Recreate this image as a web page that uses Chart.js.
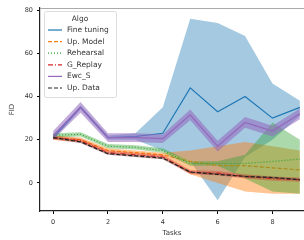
<!DOCTYPE html>
<html>
<head>
<meta charset="utf-8">
<script src="https://cdn.jsdelivr.net/npm/chart.js@4"></script>
<style>
  html, body { margin: 0; padding: 0; background: #fff; }
  #wrap { width: 304px; height: 240px; }
</style>
</head>
<body>
<div id="wrap"><canvas id="grafico"></canvas></div>
<script>
const tasks = [0, 1, 2, 3, 4, 5, 6, 7, 8, 9];
const xTicks = [0, 2, 4, 6, 8];
const yTicks = [0, 20, 40, 60, 80];

const algos = ['Fine tuning', 'Up. Model', 'Rehearsal', 'G_Replay', 'Ewc_S', 'Up. Data'];

const fineMean = [21, 35, 21, 21.5, 23, 44, 33, 40, 30, 35];
const fineLow  = [20, 34, 20, 20, 15, 10, -8, 12, 20, 31];
const fineHigh = [22, 36, 22, 23, 35, 76, 74, 68, 46, 38];

const modelMean = [21, 20, 15, 14, 13, 10, 8, 8, 7, 6];
const modelLow  = [20, 19, 14, 13, 12, 4, 0, -4, -5, -5];
const modelHigh = [22, 21, 16, 15, 14, 15, 17, 19, 17, 15];

const rehMean = [22, 22.5, 17, 16.5, 15, 9, 9, 9, 10, 11];
const rehLow  = [21, 21.5, 16, 15.5, 14, 8, 8, 2, -4, -5];
const rehHigh = [23, 23.5, 18, 17.5, 16, 10, 10, 13, 28, 20];

const grMean = [21, 19.5, 14, 13, 12, 5, 4.5, 3, 2, 1.5];
const grLow  = [20, 18.5, 13, 12, 11, 4, 3.5, 2, 1, 0.5];
const grHigh = [22, 20.5, 15, 14, 13, 6, 5.5, 4, 3, 2.5];

const ewcMean = [22, 35, 21, 21, 20.5, 31.5, 17, 28, 24, 32];
const ewcLow  = [20, 32.5, 19, 19, 18.5, 29, 14.5, 25.5, 21.5, 29.5];
const ewcHigh = [24, 37.5, 23, 23, 22.5, 34, 19.5, 30.5, 26.5, 34.5];

const dataMean = [21, 19, 13.5, 12.5, 11.5, 5, 4, 3, 2.5, 1.5];
const dataLow  = [20.5, 18.5, 13, 12, 11, 4.5, 3.5, 2.5, 2, 1];
const dataHigh = [21.5, 19.5, 14, 13, 12, 5.5, 4.5, 3.5, 3, 2];

const series = [
  { mean: fineMean, low: fineLow, high: fineHigh, color: '#1f77b4', band: 'rgba(31,119,180,0.4)', dash: [] },
  { mean: modelMean, low: modelLow, high: modelHigh, color: '#ff7f0e', band: 'rgba(255,127,14,0.45)', dash: [4, 2] },
  { mean: rehMean, low: rehLow, high: rehHigh, color: '#2ca02c', band: 'rgba(44,160,44,0.4)', dash: [1, 2] },
  { mean: grMean, low: grLow, high: grHigh, color: '#d62728', band: 'rgba(214,39,40,0.35)', dash: [5, 2, 1, 2] },
  { mean: ewcMean, low: ewcLow, high: ewcHigh, color: '#9467bd', band: 'rgba(148,103,189,0.55)', dash: [] },
  { mean: dataMean, low: dataLow, high: dataHigh, color: '#222222', band: 'rgba(60,60,60,0.25)', dash: [4, 2] },
];

const pts = (ys) => tasks.map((x, i) => ({ x, y: ys[i] }));

const datasets = [];
series.forEach((s, i) => {
  const ord = (series.length - i) * 10;
  datasets.push({
    label: algos[i] + ' high', data: pts(s.high), borderWidth: 0, pointRadius: 0,
    backgroundColor: s.band, fill: '+1', order: ord + 2, tension: 0,
  });
  datasets.push({
    label: algos[i] + ' low', data: pts(s.low), borderWidth: 0, pointRadius: 0,
    backgroundColor: s.band, fill: false, order: ord + 1, tension: 0,
  });
  datasets.push({
    label: algos[i], data: pts(s.mean), borderColor: s.color, borderWidth: 1.2,
    borderDash: s.dash, pointRadius: 0, fill: false, order: ord, tension: 0,
  });
});

const legendaAlgo = {
  id: 'legendaAlgo',
  afterDraw(chart) {
    const { ctx, chartArea } = chart;
    ctx.save();
    // linha cinza no topo
    ctx.strokeStyle = '#aaaaaa';
    ctx.lineWidth = 1;
    ctx.beginPath();
    ctx.moveTo(chartArea.left, chartArea.top + 0.5);
    ctx.lineTo(chartArea.right, chartArea.top + 0.5);
    ctx.stroke();

    const x0 = chartArea.left + 4, y0 = chartArea.top + 3;
    const w = 72, h = 86;
    ctx.fillStyle = 'rgba(255,255,255,0.85)';
    ctx.strokeStyle = '#dddddd';
    ctx.beginPath();
    ctx.roundRect(x0 + 0.5, y0 + 0.5, w, h, 2);
    ctx.fill();
    ctx.stroke();

    ctx.font = '7.5px "DejaVu Sans"';
    ctx.fillStyle = '#333';
    ctx.textBaseline = 'middle';
    ctx.textAlign = 'center';
    ctx.fillText('Algo', x0 + w / 2, y0 + 8);
    ctx.textAlign = 'left';
    series.forEach((s, i) => {
      const yy = y0 + 19 + i * 11.6;
      ctx.strokeStyle = s.color;
      ctx.lineWidth = 1.2;
      ctx.setLineDash(s.dash);
      ctx.beginPath();
      ctx.moveTo(x0 + 4, yy);
      ctx.lineTo(x0 + 18, yy);
      ctx.stroke();
      ctx.setLineDash([]);
      ctx.fillStyle = '#333';
      ctx.fillText(algos[i], x0 + 23, yy);
    });
    ctx.restore();
  },
};

const tickFont = { family: 'DejaVu Sans', size: 6.5 };

new Chart(document.getElementById('grafico').getContext('2d'), {
  type: 'line',
  data: { datasets },
  options: {
    responsive: true,
    maintainAspectRatio: false,
    animation: false,
    layout: { padding: { top: 8, right: 0, left: 8, bottom: 0 } },
    plugins: { legend: { display: false }, tooltip: { enabled: false } },
    scales: {
      x: {
        type: 'linear', min: -0.48, max: 9.15,
        afterBuildTicks: (sc) => { sc.ticks = xTicks.map((v) => ({ value: v })); },
        afterFit: (sc) => { sc.height = 29; },
        ticks: { font: tickFont, color: '#333', padding: 4 },
        grid: { drawOnChartArea: false, drawTicks: true, tickLength: 3, color: '#000' },
        border: { color: '#222', width: 1.2 },
        title: { display: true, text: 'Tasks', font: { family: 'DejaVu Sans', size: 7 }, color: '#333', padding: { top: 0, bottom: 3 } },
      },
      y: {
        min: -13, max: 81,
        afterBuildTicks: (sc) => { sc.ticks = yTicks.map((v) => ({ value: v })); },
        afterFit: (sc) => { sc.width = 32; },
        ticks: { font: tickFont, color: '#333', padding: 4 },
        grid: { drawOnChartArea: false, drawTicks: true, tickLength: 3, color: '#000' },
        border: { color: '#222', width: 1.2 },
        title: { display: true, text: 'FID', font: { family: 'DejaVu Sans', size: 7 }, color: '#333', padding: { top: 0, bottom: 4 } },
      },
    },
  },
  plugins: [legendaAlgo],
});
</script>
</body>
</html>
